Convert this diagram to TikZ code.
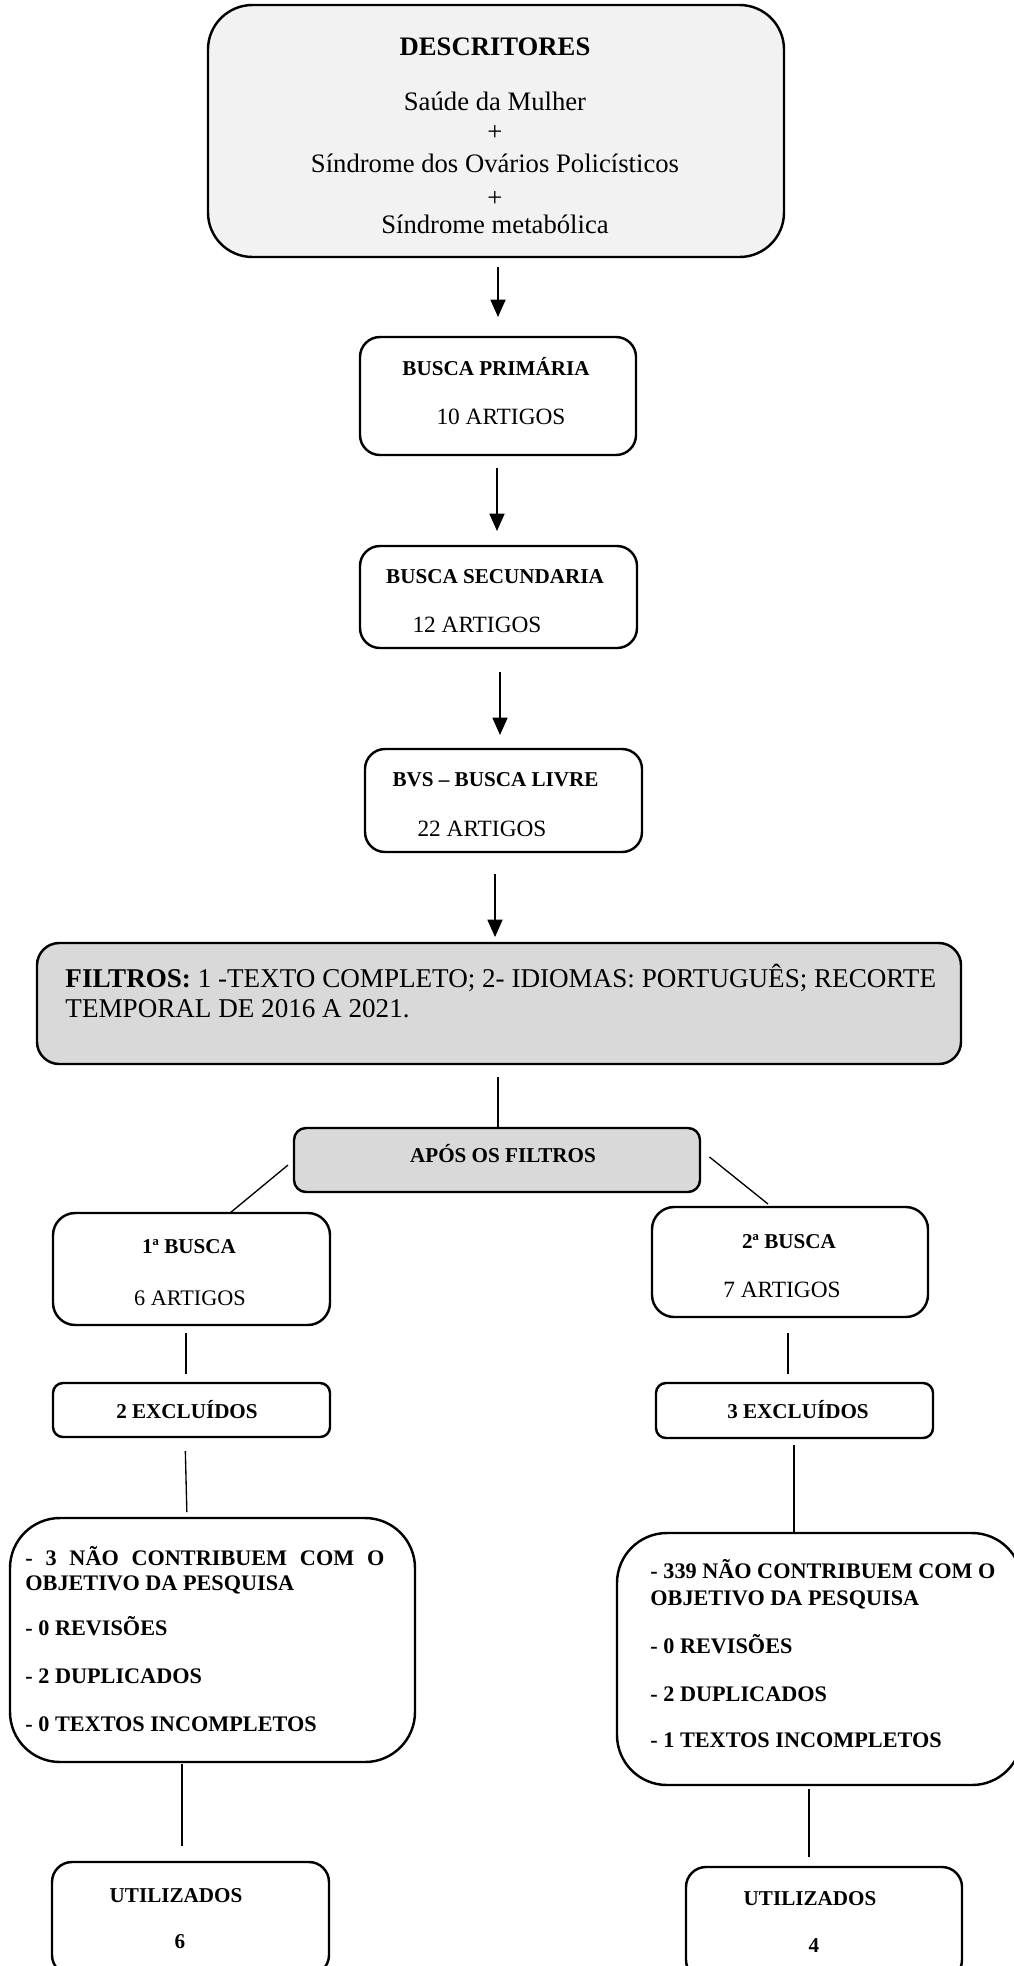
\documentclass[tikz,border=0pt]{standalone}
\usepackage{fontspec}
\setmainfont{Liberation Serif}
\usetikzlibrary{arrows.meta,calc}
\definecolor{topgray}{HTML}{F2F2F2}
\definecolor{midgray}{HTML}{D9D9D9}
\newcommand\fsz[1]{\fontsize{#1}{#1}\selectfont}
\begin{document}
\begin{tikzpicture}[x=0.45pt,y=-0.45pt,
  bx/.style={draw=black, line width=1.1pt, inner sep=0pt, outer sep=0pt, fill=white},
  ln/.style={draw=black, line width=0.6pt},
  arr/.style={ln, -{Triangle[width=6.8pt,length=7.8pt]}},
  tx/.style={inner sep=0pt, anchor=base, text=black},
  txl/.style={tx, anchor=base west},
  bb/.style={font=\fsz{9.5}\bfseries},
  lb/.style={font=\fsz{10}\bfseries},
]
\useasboundingbox (0,0) rectangle (1014,1966);
\clip (0,0) rectangle (1014,1966);
% boxes
\node[bx, fill=topgray, rounded corners=20pt, minimum width=259.2pt, minimum height=113.4pt] (desc) at (496,131) {};
\node[bx, rounded corners=9pt, minimum width=124.2pt, minimum height=53.1pt] (bp) at (498,396) {};
\node[bx, rounded corners=9pt, minimum width=124.65pt, minimum height=45.9pt] (bs) at (498.5,597) {};
\node[bx, rounded corners=9pt, minimum width=124.65pt, minimum height=46.35pt] (bvs) at (503.5,800.5) {};
\node[bx, fill=midgray, rounded corners=10pt, minimum width=415.8pt, minimum height=54.45pt] (filt) at (499,1003.5) {};
\node[bx, fill=midgray, rounded corners=5.4pt, minimum width=182.7pt, minimum height=28.8pt] (apos) at (497,1160) {};
\node[bx, rounded corners=10pt, minimum width=124.65pt, minimum height=50.4pt] (b1) at (191.5,1269) {};
\node[bx, rounded corners=10pt, minimum width=124.2pt, minimum height=49.5pt] (b2) at (790,1262) {};
\node[bx, rounded corners=4.5pt, minimum width=124.65pt, minimum height=24.3pt] (ex1) at (191.5,1410) {};
\node[bx, rounded corners=4.5pt, minimum width=124.65pt, minimum height=24.75pt] (ex2) at (794.5,1410.5) {};
\node[bx, rounded corners=22.5pt, minimum width=182.25pt, minimum height=109.8pt] (big1) at (212.5,1640) {};
\node[bx, rounded corners=22.5pt, minimum width=182.25pt, minimum height=113.4pt] (big2) at (819.5,1659) {};
\node[bx, rounded corners=9pt, minimum width=124.65pt, minimum height=50.85pt] (u1) at (190.5,1918.5) {};
\node[bx, rounded corners=9pt, minimum width=124.2pt, minimum height=50.85pt] (u2) at (824,1923.5) {};
% texts: top box
\node[tx, font=\fsz{12}\bfseries] (t1) at (495,55) {DESCRITORES};
\node[tx, font=\fsz{12}] (t2) at (495,110.5) {Saúde da Mulher};
\node[tx, font=\fsz{12}] (t3) at (495,140) {+};
\node[tx, font=\fsz{12}] (t4) at (495,172) {Síndrome dos Ovários Policísticos};
\node[tx, font=\fsz{12}] (t5) at (495,206) {+};
\node[tx, font=\fsz{12}] (t6) at (495,233.5) {Síndrome metabólica};
% searches
\node[tx, bb] (bpa) at (496,375) {BUSCA PRIMÁRIA};
\node[tx, font=\fsz{10.5}] (bpb) at (501,424) {10 ARTIGOS};
\node[tx, bb] (bsa) at (495,583.5) {BUSCA SECUNDARIA};
\node[tx, font=\fsz{10.5}] (bsb) at (477,632.5) {12 ARTIGOS};
\node[tx, bb] (bva) at (495.5,786) {BVS -- BUSCA LIVRE};
\node[tx, font=\fsz{10.5}] (bvb) at (482,836) {22 ARTIGOS};
% filters
\node[txl, font=\fsz{12.2}] (fa) at (65,987) {\textbf{FILTROS:} 1 -TEXTO COMPLETO; 2- IDIOMAS: PORTUGUÊS; RECORTE};
\node[txl, font=\fsz{12.2}] (fb) at (65,1017) {TEMPORAL DE 2016 A 2021.};
\node[tx, bb] (pa) at (503,1162) {APÓS OS FILTROS};
% branches
\node[tx, bb] (b1a) at (189,1253) {1ª BUSCA};
\node[tx, font=\fsz{10}] (b1b) at (190,1305) {6 ARTIGOS};
\node[tx, bb] (b2a) at (789,1248) {2ª BUSCA};
\node[tx, font=\fsz{10.5}] (b2b) at (782,1297) {7 ARTIGOS};
\node[tx, bb] (e1) at (187,1418) {2 EXCLUÍDOS};
\node[tx, bb] (e2) at (798,1418) {3 EXCLUÍDOS};
% lists
\node[txl, lb] (l1a) at (25,1565) {\makebox[161.5pt][s]{- 3 NÃO CONTRIBUEM COM O}};
\node[txl, lb] (l1b) at (25,1590) {OBJETIVO DA PESQUISA};
\node[txl, lb] (l1c) at (25,1635) {- 0 REVISÕES};
\node[txl, lb] (l1d) at (25,1683) {- 2 DUPLICADOS};
\node[txl, lb] (l1e) at (25,1731) {- 0 TEXTOS INCOMPLETOS};
\node[txl, lb] (l2a) at (650,1578) {- 339 NÃO CONTRIBUEM COM O};
\node[txl, lb] (l2b) at (650,1605) {OBJETIVO DA PESQUISA};
\node[txl, lb] (l2c) at (650,1653) {- 0 REVISÕES};
\node[txl, lb] (l2d) at (650,1701) {- 2 DUPLICADOS};
\node[txl, lb] (l2e) at (650,1747) {- 1 TEXTOS INCOMPLETOS};
% used
\node[tx, bb] (u1a) at (176,1902) {UTILIZADOS};
\node[tx, bb] (u1b) at (180,1948) {6};
\node[tx, bb] (u2a) at (810,1905) {UTILIZADOS};
\node[tx, bb] (u2b) at (814,1952) {4};
% connectors
\draw[arr, shorten <=4.5pt, shorten >=9pt] (desc.south -| bp.north) -- (bp.north);
\draw[arr, shorten <=5.85pt, shorten >=6.75pt] ($(bp.south)+(-1,0)$) -- ($(bp.south |- bs.north)+(-1,0)$);
\draw[arr, shorten <=10.8pt, shorten >=6.3pt] ($(bs.south)+(1.5,0)$) -- ($(bs.south |- bvs.north)+(1.5,0)$);
\draw[arr, shorten <=9.9pt, shorten >=2.7pt] ($(bvs.south)+(-8.5,0)$) -- ($(bvs.south |- filt.north)+(-8.5,0)$);
\draw[ln, shorten <=5.85pt] ($(filt.south)+(-1,0)$) -- ($(filt.south |- apos.north)+(-1,0)$);
\draw[ln] ($(apos.west)+(-6,5)$) -- ($(b1.north)+(38.5,0)$);
\draw[ln] ($(apos.east)+(9.5,-3)$) -- ($(b2.north)+(-22,-3)$);
\draw[ln, shorten <=3.6pt, shorten >=4pt] ($(b1.south)+(-5.5,0)$) -- ($(b1.south |- ex1.north)+(-5.5,0)$);
\draw[ln, shorten <=7.2pt, shorten >=4pt] ($(b2.south)+(-2,0)$) -- ($(b2.south |- ex2.north)+(-2,0)$);
\draw[ln, shorten <=6.3pt, shorten >=2.7pt] ($(ex1.south)+(-6.5,0)$) -- ($(ex1.south |- big1.north)+(-4.5,0)$);
\draw[ln, shorten <=3.2pt] ($(ex2.south)+(-0.5,0)$) -- ($(ex2.south |- big2.north)+(-0.5,0)$);
\draw[ln, shorten <=0.9pt, shorten >=7.2pt] ($(big1.south -| u1.north)+(-8.5,0)$) -- ($(u1.north)+(-8.5,0)$);
\draw[ln, shorten <=1.8pt, shorten >=4.5pt] ($(big2.south -| u2.north)+(-15,0)$) -- ($(u2.north)+(-15,0)$);
\end{tikzpicture}
\end{document}
